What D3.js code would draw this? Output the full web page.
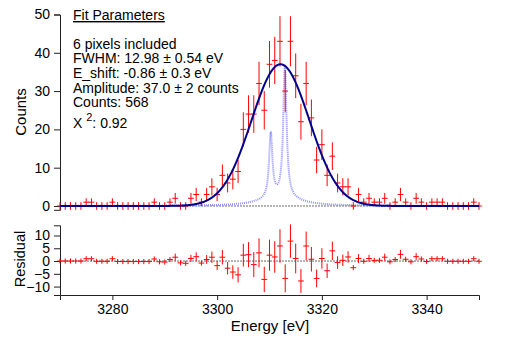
<!DOCTYPE html>
<html>
<head>
<meta charset="utf-8">
<script src="https://cdn.jsdelivr.net/npm/d3@7"></script>
<style>
body{margin:0;background:#fff}
text{font-family:"Liberation Sans",Arial,sans-serif;fill:#000}
</style>
</head>
<body>
<svg width="514" height="338"></svg>
<script>
// bins, 1 eV wide
var energy = d3.range(3270, 3351, 1);
var counts = [0,0,0,0,0,1,1,0,0,0,
    1,0,0,0,0,0,0,0,1,0,
    0,1,2,0,0,2,3,1,3,5,
    3,8,6,7,9,20,24,24,32,25,
    37,38,43,30,43,34,22,32,23,12,
    16,8,13,6,5,5,0,3,1,2,
    1,1,2,0,1,3,1,0,2,1,
    0,1,1,1,0,0,0,0,0,1,
    0];
var residual = [0,0,0,0,0,0.9,0.9,-0.1,-0.1,-0.1,
    0.9,-0.2,-0.2,-0.2,-0.2,-0.2,-0.2,-0.2,0.8,-0.3,
    -0.4,0.6,1.5,-0.7,-0.9,1.0,1.7,-0.8,0.6,1.5,
    -1.8,1.5,-2.8,-4.3,-5.4,2.3,2.5,-1.4,3.2,-7.2,
    2.3,1.6,5.9,-6.8,7.8,1.0,-7.8,5.9,0.7,-6.8,
    1.0,-3.8,4.0,-0.6,0.3,1.6,-2.6,1.0,-0.1,1.0,
    0.3,0.3,1.5,-0.3,0.6,2.6,0.7,-0.3,1.7,0.8,
    -0.2,0.9,0.9,0.9,-0.1,-0.1,-0.1,-0.1,-0.1,0.9,
    -0.1];

// fit result (gaussian)
var fitAmp = 37.0, fitFWHM = 12.98, fitCenter = 3312.1;
// natural line shape (dotted), Ka2 / Ka1 shifted by E_shift
var lineE = [3310.24, 3312.94, 3310.24, 3312.94];
var lineAmp = [17.0, 34.6, 0.75, 1.5];
var lineHW = [0.38, 0.38, 4.0, 4.0];

var infoLines = ["6 pixels included", "FWHM: 12.98 \u00b1 0.54 eV", "E_shift: -0.86 \u00b1 0.3 eV",
    "Amplitude: 37.0 \u00b1 2 counts", "Counts: 568"];
var chi2 = "0.92";

var svg = d3.select("svg");

var x = d3.scaleLinear().domain([3270, 3350]).range([60, 479]);
var y = d3.scaleLinear().domain([-1.0, 50]).range([209.8, 14.5]);
var yr = d3.scaleLinear().domain([-13.3, 14]).range([295, 225.3]);

var data = energy.map(function(e, i){
    return {e: e, c: counts[i], r: residual[i], err: Math.sqrt(Math.max(counts[i], 1))};
});

// axes
svg.append("g").attr("transform", "translate(60,0)")
    .call(d3.axisLeft(y).tickValues([0,10,20,30,40,50]).tickSizeOuter(0).tickSize(6).tickPadding(4));
svg.append("g").attr("transform", "translate(60,0)")
    .call(d3.axisLeft(yr).tickValues([-10,-5,0,5,10]).tickSizeOuter(0).tickSize(6).tickPadding(4));
svg.append("g").attr("transform", "translate(0,295)")
    .call(d3.axisBottom(x).tickValues([3280,3300,3320,3340]).tickFormat(d3.format("d"))
        .tickSizeOuter(0).tickSize(5).tickPadding(4));
svg.selectAll(".domain, .tick line").attr("stroke", "#222");
svg.selectAll(".tick text").attr("font-size", 14).attr("font-family", "Liberation Sans, Arial, sans-serif").attr("fill", "#000");

// zero lines
[y, yr].forEach(function(s){
    svg.append("line")
        .attr("x1", x(3270)).attr("x2", x(3350))
        .attr("y1", s(0)).attr("y2", s(0))
        .attr("stroke", "#444").attr("stroke-width", 0.8).attr("stroke-dasharray", "2,1");
});

// model curves
var grid = d3.range(3270, 3350.01, 0.05);
var sigma = fitFWHM / (2 * Math.sqrt(2 * Math.log(2)));
function fit(e){ return fitAmp * Math.exp(-(e - fitCenter) * (e - fitCenter) / (2 * sigma * sigma)); }
function natural(e){
    var s = 0;
    for (var k = 0; k < lineE.length; k++){
        var d = e - lineE[k];
        s += lineAmp[k] * lineHW[k] * lineHW[k] / (d * d + lineHW[k] * lineHW[k]);
    }
    return s;
}
var line = d3.line().x(function(d){ return x(d[0]); }).y(function(d){ return y(d[1]); });

svg.append("path")
    .datum(grid.map(function(e){ return [e, natural(e)]; }))
    .attr("d", line).attr("fill", "none")
    .attr("stroke", "#9090ff").attr("stroke-width", 2).attr("stroke-dasharray", "1,1");

// data with error bars
function drawPoints(g, ys, key){
    var pts = g.selectAll("g").data(data).enter().append("g");
    pts.append("line")
        .attr("x1", function(d){ return x(d.e); }).attr("x2", function(d){ return x(d.e); })
        .attr("y1", function(d){ return ys(d[key] - d.err); })
        .attr("y2", function(d){ return ys(d[key] + d.err); })
        .attr("stroke", "#ff0000").attr("stroke-width", 1);
    pts.append("line")
        .attr("x1", function(d){ return x(d.e - 0.55); }).attr("x2", function(d){ return x(d.e + 0.55); })
        .attr("y1", function(d){ return ys(d[key]); }).attr("y2", function(d){ return ys(d[key]); })
        .attr("stroke", "#ff0000").attr("stroke-width", 1);
}
drawPoints(svg.append("g"), y, "c");
drawPoints(svg.append("g"), yr, "r");

svg.append("path")
    .datum(grid.map(function(e){ return [e, fit(e)]; }))
    .attr("d", line).attr("fill", "none")
    .attr("stroke", "#00008c").attr("stroke-width", 2);

// labels
svg.append("text").attr("transform", "translate(26,112) rotate(-90)")
    .attr("text-anchor", "middle").attr("font-size", 15).text("Counts");
svg.append("text").attr("transform", "translate(25,259) rotate(-90)")
    .attr("text-anchor", "middle").attr("font-size", 14.5).text("Residual");
svg.append("text").attr("x", 270).attr("y", 331)
    .attr("text-anchor", "middle").attr("font-size", 15).text("Energy [eV]");

// fit parameter box
var info = svg.append("g").attr("font-size", 14);
info.append("text").attr("x", 73).attr("y", 20)
    .attr("text-decoration", "underline").text("Fit Parameters");
infoLines.forEach(function(t, i){
    info.append("text").attr("x", 73).attr("y", 48.5 + i * 14.7).text(t);
});
var chi = info.append("text").attr("x", 73).attr("y", 128);
chi.append("tspan").text("X ");
chi.append("tspan").attr("dy", -7).attr("font-size", 11).text("2");
chi.append("tspan").attr("dy", 7).text(": " + chi2);
</script>
</body>
</html>
